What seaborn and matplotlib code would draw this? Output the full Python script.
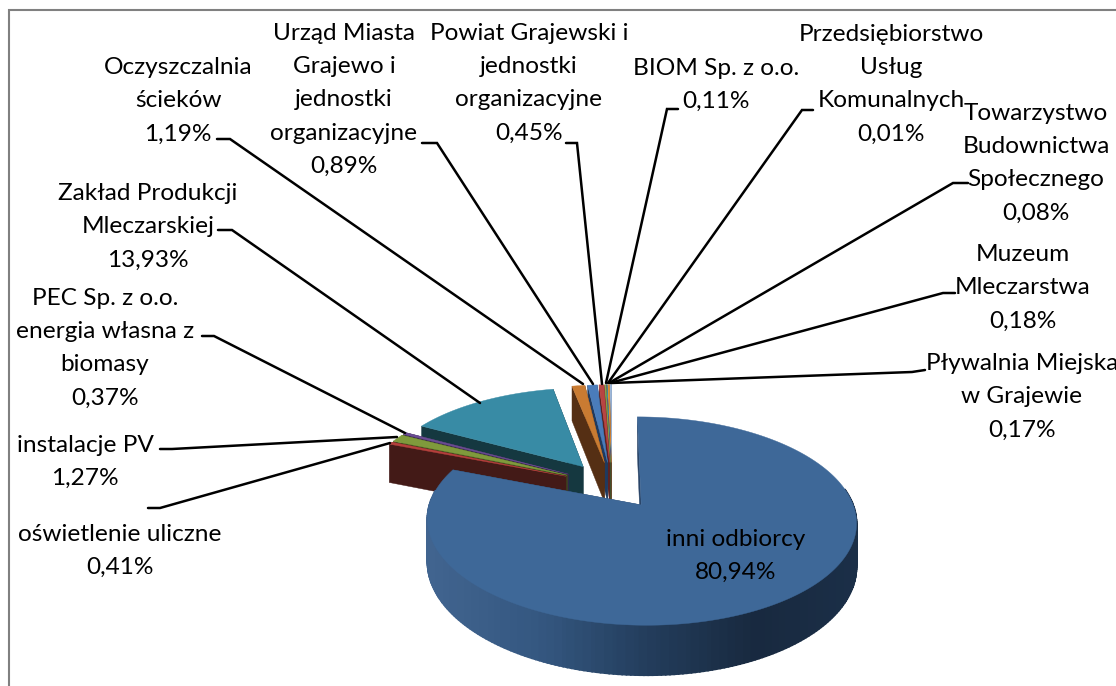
import numpy as np
import matplotlib
matplotlib.use("Agg")
import matplotlib.pyplot as plt
from matplotlib.patches import Polygon
import seaborn as sns

# Data: clockwise from 12 o'clock
names = ['inni odbiorcy', 'oświetlenie uliczne', 'instalacje PV',
         'PEC Sp. z o.o.\nenergia własna z\nbiomasy', 'Zakład Produkcji\nMleczarskiej',
         'Oczyszczalnia\nścieków', 'Urząd Miasta\nGrajewo i\njednostki\norganizacyjne',
         'Powiat Grajewski i\njednostki\norganizacyjne', 'BIOM Sp. z o.o.',
         'Przedsiębiorstwo\nUsług\nKomunalnych', 'Towarzystwo\nBudownictwa\nSpołecznego',
         'Muzeum\nMleczarstwa', 'Pływalnia Miejska\nw Grajewie']
shares = [80.94, 0.41, 1.27, 0.37, 13.93, 1.19, 0.89, 0.45, 0.11, 0.01, 0.08, 0.18, 0.17]

top_colors = ['#3e6898', '#b5403c', '#7f9a3c', '#6a4c93', '#388ba5', '#c97b32', '#4a7cba',
              '#b84442', '#8aa64a', '#6f5497', '#3f9ab5', '#e08a34', '#9db8dc']
wall_colors = ['#2a4568', '#431a17', '#3f4d1e', '#352649', '#153840', '#552f14', '#1f3a5f',
               '#5c2221', '#45532a', '#38294b', '#1f4d5a', '#70451a', '#4e5c6e']

# label centre x, first line y
label_pos = [(736, 538), (120, 533), (85, 444), (105, 297), (148, 192), (178, 66), (344, 32),
             (529, 32), (716, 67), (891, 33), (1036, 112), (1023, 253), (1022, 362)]

# leader lines, None for the label sitting on its slice
leaders = [None,
           [(148, 508), (160, 508), (390, 443)],
           [(160, 449), (172, 449), (397, 437)],
           [(202, 336), (214, 336), (405, 433)],
           [(218, 230), (232, 230), (480, 403)],
           [(217, 139), (230, 139), (583, 384)],
           [(422, 143), (437, 143), (593, 384)],
           [(566, 143), (577, 143), (602, 384)],
           [(678, 109), (667, 109), (606, 383)],
           [(813, 110), (802, 110), (608, 383)],
           [(968, 183), (953, 183), (609, 383)],
           [(955, 293), (943, 293), (610, 383)],
           [(925, 370), (912, 372), (611, 383)]]

# perspective of the tilted pie, in pixels
CX, CY = 612, 485
SX, SY = 205.5, 95.6
PERSP = 0.15
DEPTH = 41


def project(x, y, z=0.0):
    w = 1 + PERSP * y
    return np.column_stack([CX + SX * x / w, CY - SY * y / w + DEPTH * z / w])


def add_poly(ax, xy, color, zorder, lw=0.3):
    ax.add_patch(Polygon(xy, closed=True, facecolor=color, edgecolor=color, linewidth=lw, zorder=zorder))


sns.set_theme(style="white")
plt.rcParams['font.family'] = ['Lato', 'DejaVu Sans']

fig = plt.figure(figsize=(11.16, 6.86), dpi=100)
ax = fig.add_axes([0, 0, 1, 1])

# pie gives the wedge angles and exploded centres, redrawn below in perspective
wedges, _ = ax.pie(shares, explode=[0.245] * len(shares), startangle=90, counterclock=False, radius=1)
geometry = [(w.center, w.r, w.theta1, w.theta2) for w in wedges]
for w in wedges:
    w.remove()
ax.set_aspect('auto')
ax.set_xlim(0, 1116)
ax.set_ylim(686, 0)
ax.set_frame_on(False)
ax.set_xticks([])
ax.set_yticks([])

# back slices first, big blue one last
order = sorted(range(len(shares)), key=lambda i: -geometry[i][0][1])
outer_blend = sns.blend_palette(['#41648f', '#345780', '#233d5c', '#18293f', '#1b2f48'], 60)

z = 2
for i in order:
    (x0, y0), r, t1, t2 = geometry[i]
    ang = np.radians(np.linspace(t1, t2, max(4, int(t2 - t1) + 2)))
    xs = x0 + r * np.cos(ang)
    ys = y0 + r * np.sin(ang)

    # cut faces
    for xe, ye in [(xs[0], ys[0]), (xs[-1], ys[-1])]:
        face = np.vstack([project(np.array([x0, xe]), np.array([y0, ye])),
                          project(np.array([xe, x0]), np.array([ye, y0]), 1.0)])
        add_poly(ax, face, wall_colors[i], z)
    z += 1

    # rim, shaded piece by piece along the arc for the big slice
    for k in range(len(ang) - 1):
        px = xs[k:k + 2]
        py = ys[k:k + 2]
        if np.sin(ang[k]) > 0.15:
            continue
        quad = np.vstack([project(px, py), project(px[::-1], py[::-1], 1.0)])
        if i == 0:
            t = np.clip((project(px[:1], py[:1])[0, 0] - 428) / 430, 0, 1)
            add_poly(ax, quad, outer_blend[int(t * 59)], z, lw=1.2)
        else:
            add_poly(ax, quad, wall_colors[i], z)
    z += 1

    # top face
    top = project(np.r_[x0, xs], np.r_[y0, ys])
    add_poly(ax, top, top_colors[i], z)
    z += 1

# labels and leaders
for name, share, (lx, ly), line in zip(names, shares, label_pos, leaders):
    txt = name + '\n' + f'{share:.2f}'.replace('.', ',') + '%'
    ax.text(lx, ly - 9, txt, ha='center', va='top', fontsize=17.6, color='#000000',
            linespacing=1.72, zorder=z + 2)
    if line is not None:
        pts = np.array(line)
        ax.plot(pts[:, 0], pts[:, 1], color='black', linewidth=1.8, zorder=z + 1, solid_joinstyle='miter')

# grey chart frame
ax.plot([9, 9, 1116], [686, 10, 10], color='#808080', linewidth=1.5, zorder=1, solid_joinstyle='miter')

fig.savefig('out.png', dpi=100)
